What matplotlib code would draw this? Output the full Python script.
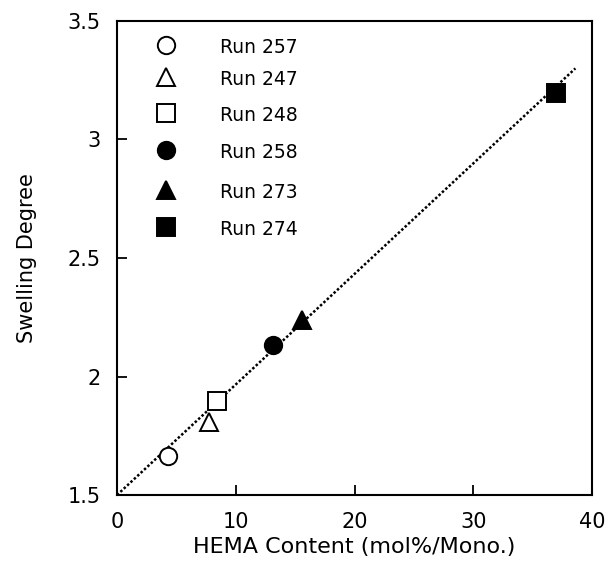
import matplotlib
matplotlib.use("Agg")
import matplotlib.pyplot as plt

# Data
runs = ["Run 257", "Run 247", "Run 248", "Run 258", "Run 273", "Run 274"]
hema = [4.3, 7.75, 8.45, 13.1, 15.55, 37.0]
swelling = [1.665, 1.81, 1.895, 2.135, 2.24, 3.195]
markers = ["o", "^", "s", "o", "^", "s"]
filled = [False, False, False, True, True, True]

fit_x = [0.0, 38.6]
fit_y = [1.5, 3.30]

xticks = [0, 10, 20, 30, 40]
yticks = [1.5, 2, 2.5, 3, 3.5]
ytick_labels = ["1.5", "2", "2.5", "3", "3.5"]

plt.rcParams['font.family'] = ['DejaVu Sans']

fig = plt.figure(figsize=(6.10, 5.75), dpi=100)
ax = fig.add_axes([0.1918, 0.1391, 0.9705 - 0.1918, 0.9635 - 0.1391])

ax.plot(fit_x, fit_y, color="black", lw=1.8, linestyle=(0, (1, 0.85)), zorder=1)

for x, y, m, f in zip(hema, swelling, markers, filled):
    ax.plot([x], [y], marker=m, markersize=12.5 if m != "^" else 13.5,
            markerfacecolor="black" if f else "white",
            markeredgecolor="black", markeredgewidth=1.4,
            linestyle="none", zorder=3)

# manual legend
leg_y = [0.949, 0.882, 0.806, 0.728, 0.643, 0.566]
for i, (lab, m, f) in enumerate(zip(runs, markers, filled)):
    ax.plot([0.103], [leg_y[i]], transform=ax.transAxes, marker=m,
            markersize=12.5 if m != "^" else 13.5,
            markerfacecolor="black" if f else "white",
            markeredgecolor="black", markeredgewidth=1.4,
            linestyle="none", clip_on=False)
    ax.text(0.217, leg_y[i] - 0.005, lab, transform=ax.transAxes,
            fontsize=13.5, va="center", ha="left")

ax.set_xlim(0, 40)
ax.set_ylim(1.5, 3.5)
ax.set_xticks(xticks)
ax.set_yticks(yticks)
ax.set_yticklabels(ytick_labels)
ax.tick_params(direction="in", length=7, width=1.3, labelsize=15)
ax.tick_params(axis="x", pad=12)
ax.tick_params(axis="y", pad=12)
for s in ax.spines.values():
    s.set_linewidth(1.5)

ax.set_xlabel("HEMA Content (mol%/Mono.)", fontsize=16, labelpad=4)
ax.set_ylabel("Swelling Degree", fontsize=15, labelpad=22)

fig.savefig("out.png", dpi=100)
